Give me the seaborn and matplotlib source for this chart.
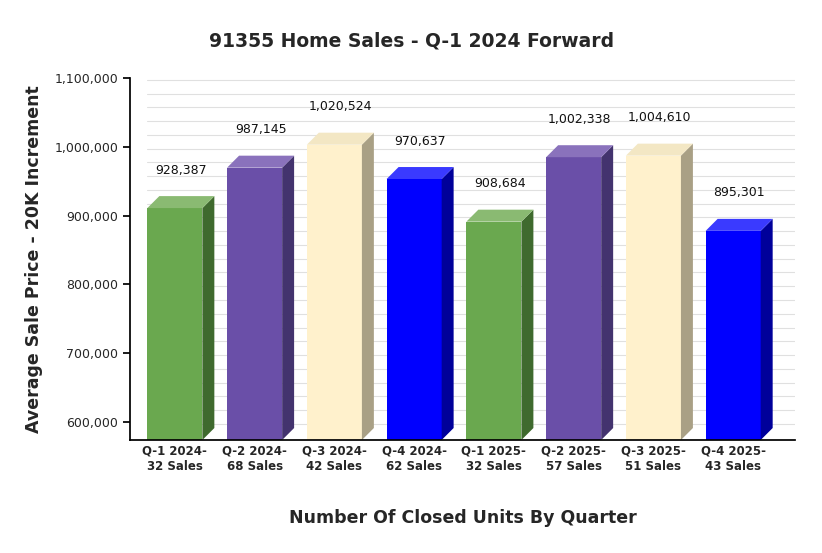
import matplotlib
matplotlib.use("Agg")
import matplotlib.pyplot as plt
import seaborn as sns
import pandas as pd
from matplotlib.patches import Polygon

categories = ["Q-1 2024-\n32 Sales", "Q-2 2024-\n68 Sales", "Q-3 2024-\n42 Sales", "Q-4 2024-\n62 Sales",
              "Q-1 2025-\n32 Sales", "Q-2 2025-\n57 Sales", "Q-3 2025-\n51 Sales", "Q-4 2025-\n43 Sales"]
values = [928387, 987145, 1020524, 970637, 908684, 1002338, 1004610, 895301]
front = ["#6aa84f", "#6a4fa8", "#fff1cc", "#0000ff"] * 2
side = ["#3f6a2e", "#43336e", "#a9a085", "#00009a"] * 2
top = ["#8aba72", "#8a72bc", "#f3e7c4", "#3a3aff"] * 2

sns.set_theme(style="white")
plt.rcParams['font.family'] = ['Verdana', 'DejaVu Sans']
fig = plt.figure(figsize=(8.22, 5.53), dpi=100)
ax = fig.add_axes([130/822, 113/553, 665/822, 362/553])

ymin, ymax = 574000, 1100000
dx, dy = 0.15, 17400
w = 0.69
df = pd.DataFrame({"cat": categories, "front": [v - dy for v in values]})
ax.set_ylim(ymin, ymax)
# grid on back wall
for g in range(580000, 1100001, 20000):
    if g + dy <= ymax:
        ax.plot([-0.5625 + 17/80, 7.775], [g + dy, g + dy], color="#e0e0e0", lw=0.8, zorder=0)
sns.barplot(data=df, x="cat", y="front", palette=front, hue="cat", legend=False,
            width=w, ax=ax, saturation=1, bottom=0, zorder=2)
for p in ax.patches:
    p.set_y(ymin); p.set_height(p.get_height() - ymin); p.set_edgecolor("none")
for i, v in enumerate(values):
    x0, x1 = i - w/2, i + w/2
    f = v - dy
    ax.add_patch(Polygon([(x1, ymin), (x1 + dx, ymin + dy), (x1 + dx, v), (x1, f)], closed=True,
                         facecolor=side[i], edgecolor="none", zorder=2))
    ax.add_patch(Polygon([(x0, f), (x0 + dx, v), (x1 + dx, v), (x1, f)], closed=True,
                         facecolor=top[i], edgecolor="none", zorder=2))
    ax.annotate(f"{v:,}", (i + dx/2, v), xytext=(0, 14), textcoords="offset points",
                ha="center", va="bottom", fontsize=9, color="#111")
ax.set_xlim(-0.5625, 7.775)
ax.set_yticks(range(600000, 1100001, 100000))
ax.set_yticklabels([f"{t:,}" for t in range(600000, 1100001, 100000)], fontsize=9)
ax.tick_params(axis="y", left=True, length=5, color="black")
ax.tick_params(axis="x", labelsize=8.5, length=0)
for lab in ax.get_xticklabels():
    lab.set_fontweight("bold")
for s in ["top", "right"]:
    ax.spines[s].set_visible(False)
ax.spines["left"].set_color("black")
ax.spines["bottom"].set_color("black")
ax.set_xlabel("Number Of Closed Units By Quarter", fontsize=12.5, fontweight="bold", labelpad=26)
ax.set_ylabel("Average Sale Price - 20K Increment", fontsize=12.5, fontweight="bold", labelpad=8)
fig.text(412/822, 1 - 41/553, "91355 Home Sales - Q-1 2024 Forward", ha="center", va="center",
         fontsize=13.5, fontweight="bold")
fig.savefig("out.png", dpi=100)
